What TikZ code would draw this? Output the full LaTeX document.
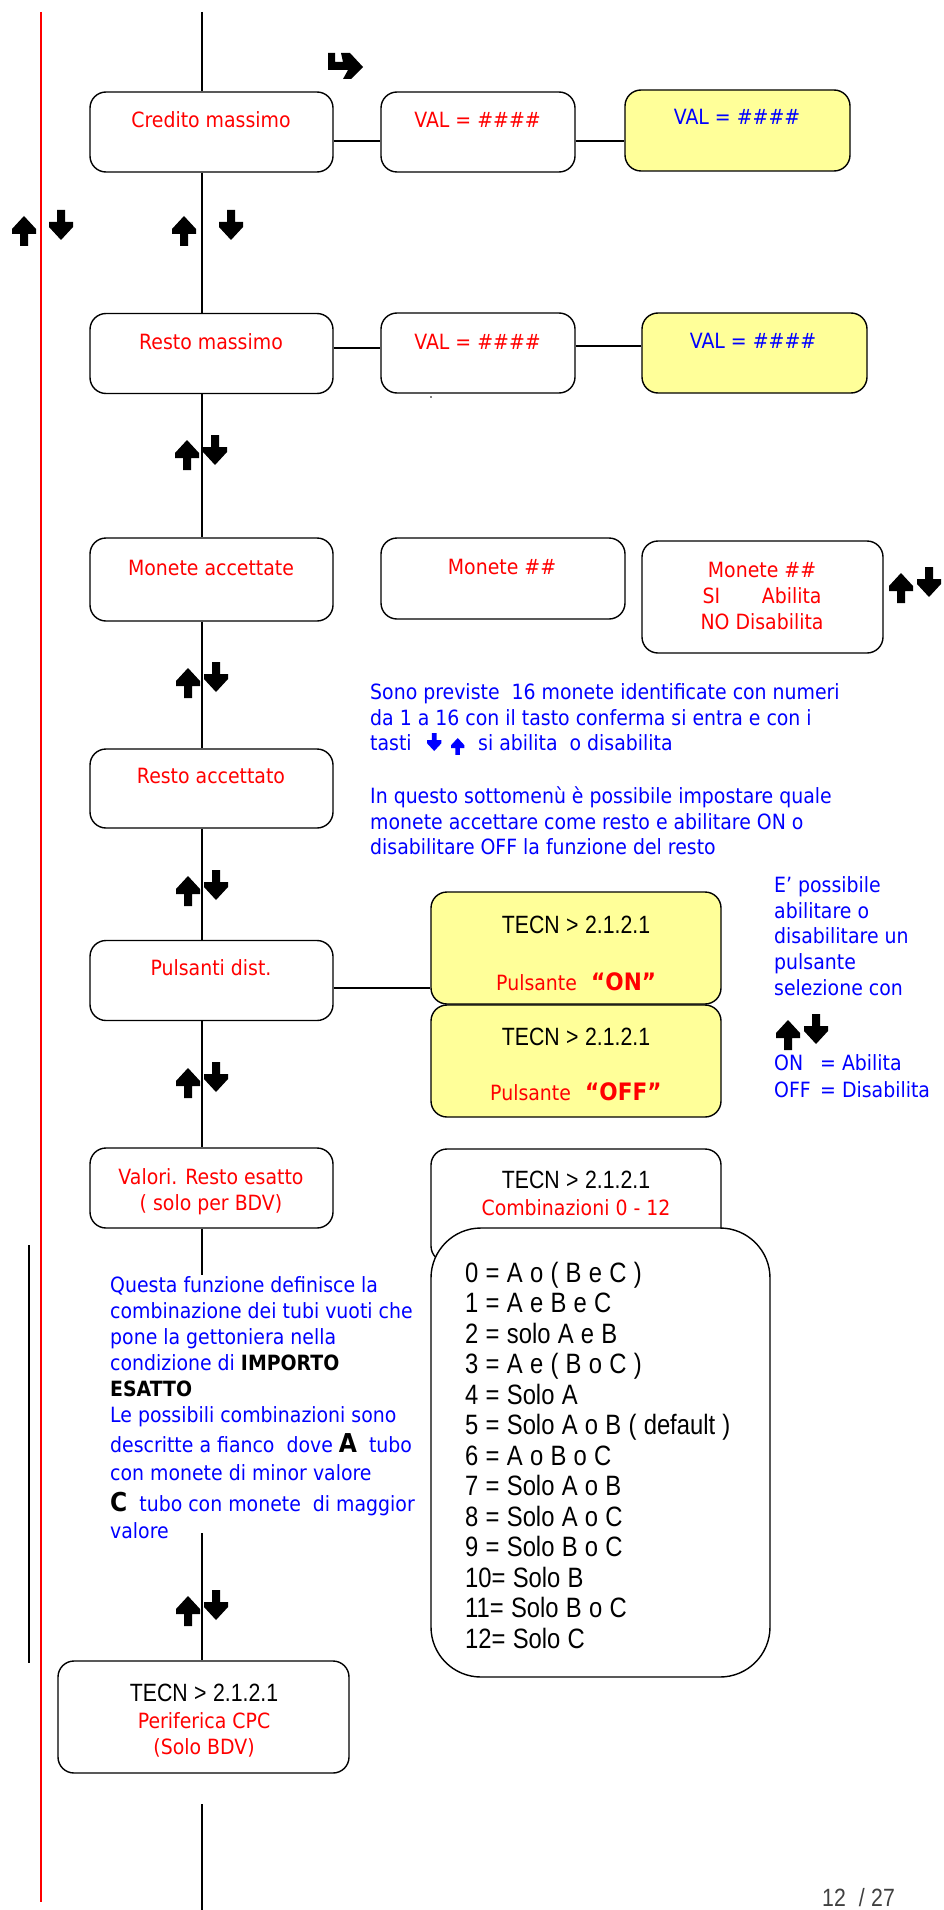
\documentclass[tikz,border=0pt]{standalone}
\usepackage{fontspec}
\setmainfont{DejaVu Sans}[FakeStretch=0.9]
\newfontfamily\narrowfont{Liberation Sans}[FakeStretch=0.85]
\newfontfamily\listfont{Liberation Sans}[FakeStretch=0.85,WordSpace=1.1]
\usepackage{tikz}
\definecolor{menu_red}{HTML}{FF0000}
\definecolor{menu_blue}{HTML}{0000FF}
\definecolor{menu_yellow}{HTML}{FFFF99}
\tikzset{
  flow/.style={line width=1.3pt},
  menubox/.style={draw, line width=1.4pt, rounded corners=16pt, fill=white, inner sep=0pt},
  leftbox/.style={menubox, minimum width=243pt, minimum height=80pt},
  yellowbox/.style={menubox, fill=menu_yellow},
  redlabel/.style={text=menu_red, font=\fontsize{21}{26}\selectfont, inner sep=0pt, anchor=base},
  bluelabel/.style={text=menu_blue, font=\fontsize{21}{25.7}\selectfont, inner sep=0pt, anchor=base},
  tecnlabel/.style={font=\narrowfont\fontsize{25}{29}\selectfont, inner sep=0pt, anchor=base},
  arrowup/.pic={\fill (12,0) -- (24,13) -- (24,18) -- (16,18) -- (16,30) -- (8,30) -- (8,18) -- (0,18) -- (0,13) -- cycle;},
  arrowdown/.pic={\fill (8,0) -- (16,0) -- (16,12) -- (24,12) -- (24,17) -- (12,30) -- (0,17) -- (0,12) -- (8,12) -- cycle;}
}

\begin{document}
\begin{tikzpicture}[x=1pt, y=-1pt]
    \useasboundingbox (0,0) rectangle (943,1910);
    \fill[white] (0,0) rectangle (943,1910);

    % margin lines
    \draw[menu_red, line width=1.2pt] (41,12) -- (41,1902);
    \draw[line width=1.2pt] (29,1245) -- (29,1663);

    % left column
    \node[leftbox] (credito) at (211.5,132) {};
    \node[leftbox] (resto) at (211.5,353.5) {};
    \node[leftbox, minimum height=83pt] (monete) at (211.5,579.5) {};
    \node[leftbox, minimum height=79pt] (restoacc) at (211.5,788.5) {};
    \node[leftbox] (pulsanti) at (211.5,980.5) {};
    \node[leftbox] (valori) at (211.5,1188) {};
    \node[menubox, minimum width=291pt, minimum height=112pt] (periferica) at (203.5,1717) {};

    % value boxes
    \node[menubox, minimum width=194pt, minimum height=80pt] (val1) at (478,132) {};
    \node[yellowbox, minimum width=225pt, minimum height=81pt] (yel1) at (737.5,130.5) {};
    \node[menubox, minimum width=194pt, minimum height=80pt] (val2) at (478,353) {};
    \node[yellowbox, minimum width=225pt, minimum height=80pt] (yel2) at (754.5,353) {};
    \node[menubox, minimum width=244pt, minimum height=81pt] (monete2) at (503,578.5) {};
    \node[menubox, minimum width=241pt, minimum height=112pt] (monete3) at (762.5,597) {};
    \node[yellowbox, minimum width=290pt, minimum height=112pt] (pulson) at (576,948) {};
    \node[yellowbox, minimum width=290pt, minimum height=112pt] (pulsoff) at (576,1061) {};
    \node[menubox, minimum width=290pt, minimum height=113pt] (comb) at (576,1205.5) {};
    \node[menubox, rounded corners=50pt, minimum width=339pt, minimum height=449pt] (comblist) at (600.5,1452.5) {};

    % flow line
    \coordinate (top) at (202,12);
    \coordinate (gapA) at (202,1275);
    \coordinate (gapB) at (202,1533);
    \coordinate (tailA) at (202,1804);
    \coordinate (bottom) at (202,1910);
    \draw[flow] (top) -- (top |- credito.north);
    \draw[flow] (top |- credito.south) -- (top |- resto.north);
    \draw[flow] (top |- resto.south) -- (top |- monete.north);
    \draw[flow] (top |- monete.south) -- (top |- restoacc.north);
    \draw[flow] (top |- restoacc.south) -- (top |- pulsanti.north);
    \draw[flow] (top |- pulsanti.south) -- (top |- valori.north);
    \draw[flow] (top |- valori.south) -- (gapA);
    \draw[flow] (gapB) -- (gapB |- periferica.north);
    \draw[flow] (tailA) -- (bottom);

    % side connectors
    \draw[flow] ([yshift=-9pt]credito.east) -- ([yshift=-9pt]val1.west);
    \draw[flow] ([yshift=-9pt]val1.east) -- ([yshift=-9pt]val1.east -| yel1.west);
    \draw[flow] ([yshift=5.5pt]resto.east) -- ([yshift=5.5pt]resto.east -| val2.west);
    \draw[flow] ([yshift=7pt]val2.east) -- ([yshift=7pt]val2.east -| yel2.west);
    \draw[flow] ([yshift=-7.5pt]pulsanti.east) -- ([yshift=-7.5pt]pulsanti.east -| pulson.west);

    % key arrows
    \fill (328,53) -- (335,53) -- (335,62) -- (343,62) -- (341,53) -- (350,53) -- (363,67) -- (351,79) -- (343,79) -- (348,70) -- (328,70) -- cycle;
    \pic at (12,216) {arrowup};
    \pic at (49,210) {arrowdown};
    \pic at (172,216) {arrowup};
    \pic at (219,210) {arrowdown};
    \pic at (175,440) {arrowup};
    \pic at (203,435) {arrowdown};
    \pic at (176,668) {arrowup};
    \pic at (204,662) {arrowdown};
    \pic at (176,876) {arrowup};
    \pic at (204,870) {arrowdown};
    \pic at (176,1068) {arrowup};
    \pic at (204,1062) {arrowdown};
    \pic at (176,1596) {arrowup};
    \pic at (204,1590) {arrowdown};
    \pic at (889,573) {arrowup};
    \pic at (917,567) {arrowdown};
    \pic at (776,1020) {arrowup};
    \pic at (804,1014) {arrowdown};
    \pic[menu_blue, scale=0.6] at (427,733) {arrowdown};
    \pic[menu_blue, scale=0.56] at (451,738) {arrowup};
    \fill (431,397) circle (0.9pt);

    % box labels
    \node[redlabel] (creditotxt) at (211,127.5) {Credito massimo};
    \node[redlabel] (val1txt) at (477.5,127.5) {VAL = \#\#\#\#};
    \node[bluelabel] (yel1txt) at (737,124.5) {VAL = \#\#\#\#};
    \node[redlabel] (restotxt) at (211,349.5) {Resto massimo};
    \node[redlabel] (val2txt) at (477.5,349.5) {VAL = \#\#\#\#};
    \node[bluelabel] (yel2txt) at (753,348.5) {VAL = \#\#\#\#};
    \node[redlabel] (monetetxt) at (211,575.5) {Monete accettate};
    \node[redlabel] (monete2txt) at (502,574.5) {Monete \#\#};
    \node[redlabel, align=center] (monete3txt) at (762,629.5) {Monete \#\#\\ \makebox[119pt]{SI\hfill Abilita}\\ NO Disabilita};
    \node[redlabel] (restoacctxt) at (211,783.5) {Resto accettato};
    \node[redlabel] (pulsantitxt) at (211,975.5) {Pulsanti dist.};
    \node[redlabel, align=center] (valoritxt) at (211,1210.5) {Valori. Resto esatto\\ ( solo per BDV)};

    \node[tecnlabel] (ontecn) at (576,933) {TECN > 2.1.2.1};
    \node[redlabel, anchor=base west] (onpuls) at (496,990.5) {Pulsante};
    \node[redlabel, anchor=base west, font=\bfseries\fontsize{24}{26}\selectfont] (onval) at (591,990.5) {“ON”};
    \node[tecnlabel] (offtecn) at (576,1045) {TECN > 2.1.2.1};
    \node[redlabel, anchor=base west] (offpuls) at (490,1100.5) {Pulsante};
    \node[redlabel, anchor=base west, font=\bfseries\fontsize{24}{26}\selectfont] (offval) at (585,1100.5) {“OFF”};

    \node[tecnlabel] (combtecn) at (576,1188) {TECN > 2.1.2.1};
    \node[redlabel] (combtxt) at (576,1215.5) {Combinazioni 0 - 12};
    \node[tecnlabel, anchor=base west, align=left, font=\listfont\fontsize{28}{30.5}\selectfont] (combitems) at (465,1648) {0 = A o ( B e C )\\ 1 = A e B e C\\ 2 = solo A e B\\ 3 = A e ( B o C )\\ 4 = Solo A\\ 5 = Solo A o B ( default )\\ 6 = A o B o C\\ 7 = Solo A o B\\ 8 = Solo A o C\\ 9 = Solo B o C\\ 10= Solo B\\ 11= Solo B o C\\ 12= Solo C};

    \node[tecnlabel] (pertecn) at (204,1701) {TECN > 2.1.2.1};
    \node[redlabel, align=center] (pertxt) at (204,1754.5) {Periferica CPC\\ (Solo BDV)};

    % notes
    \node[bluelabel, anchor=base west, align=left] (notemonete) at (370,725.2) {Sono previste\ \ 16 monete identificate con numeri\\ da 1 a 16 con il tasto conferma si entra e con i};
    \node[bluelabel, anchor=base west] (notetasti) at (370,750.5) {tasti};
    \node[bluelabel, anchor=base west] (noteabilita) at (478,750.5) {si abilita\ \ o disabilita};
    \node[bluelabel, anchor=base west, align=left] (noteresto) at (370,854.9) {In questo sottomenù è possibile impostare quale\\ monete accettare come resto e abilitare ON o\\ disabilitare OFF la funzione del resto};
    \node[bluelabel, anchor=base west, align=left] (notepulsante) at (774,995.3) {E’ possibile\\ abilitare o\\ disabilitare un\\ pulsante\\ selezione con};
    \node[bluelabel, anchor=base west, align=left, font=\fontsize{21}{27}\selectfont] (noteonoff) at (774,1097.5) {\makebox[46pt][l]{ON}= Abilita\\ \makebox[46pt][l]{OFF}= Disabilita};
    \node[bluelabel, anchor=base west, align=left, font=\fontsize{21}{26}\selectfont] (noteesatto) at (110,1538.5) {Questa funzione definisce la\\
      combinazione dei tubi vuoti che\\
      pone la gettoniera nella\\
      condizione di {\color{black}\bfseries IMPORTO}\\
      {\color{black}\bfseries ESATTO}\\
      Le possibili combinazioni sono\\[4pt]
      descritte a fianco\ \ dove {\color{black}\bfseries\fontsize{26}{26}\selectfont A}\ \ tubo\\[2pt]
      con monete di minor valore\\[5pt]
      {\color{black}\bfseries\fontsize{26}{26}\selectfont C}\ \ tubo con monete\ \ di maggior\\[1pt]
      valore};

    \node[tecnlabel, anchor=base west, text=black!75] (pagenum) at (822,1906) {12\ \ / 27};
\end{tikzpicture}
\end{document}
